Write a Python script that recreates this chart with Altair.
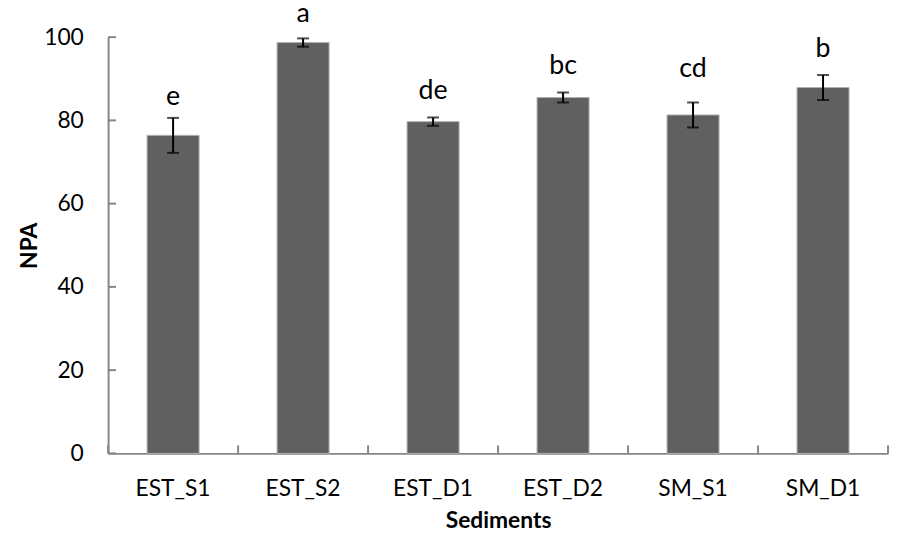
import altair as alt
import pandas as pd

sediments = ["EST_S1", "EST_S2", "EST_D1", "EST_D2", "SM_S1", "SM_D1"]
npa = [76.4, 98.7, 79.7, 85.5, 81.3, 87.9]
err = [4.2, 1.0, 1.0, 1.2, 3.0, 3.0]
letters = ["e", "a", "de", "bc", "cd", "b"]
letter_y = [83.8, 103.6, 85.2, 91.2, 90.5, 95.2]
y_ticks = [0, 20, 40, 60, 80, 100]

df = pd.DataFrame({
    "Sediments": sediments,
    "NPA": npa,
    "lo": [m - e for m, e in zip(npa, err)],
    "hi": [m + e for m, e in zip(npa, err)],
    "letter": letters,
    "ly": letter_y,
})
ticks_df = pd.DataFrame({"v": y_ticks})

W, H = 787, 420
FONT = "Lato"
AX = "#868686"

xscale = alt.Scale(domain=sediments, paddingInner=0, paddingOuter=0)
yscale = alt.Scale(domain=[0, 100], nice=False, clamp=False)

base = alt.Chart(df)

bars = base.mark_bar(
    width=alt.RelativeBandSize(0.4), color="#606060", stroke="#b0b0b0", strokeWidth=1
).encode(
    x=alt.X("Sediments:N", scale=xscale, sort=sediments,
            axis=alt.Axis(title="Sediments", labelAngle=0, ticks=False,
                          labelPadding=25, labelFontSize=23, labelFont=FONT,
                          labelColor="#000", titleFont=FONT, titleFontSize=23,
                          titleFontWeight="bold", titleColor="#000", titlePadding=9,
                          domainColor=AX, domainWidth=2)),
    y=alt.Y("NPA:Q", scale=yscale,
            axis=alt.Axis(title="NPA", values=y_ticks, ticks=False, grid=False,
                          labelPadding=25, labelFontSize=23, labelFont=FONT,
                          labelColor="#000", titleFont=FONT, titleFontSize=23,
                          titleFontWeight="bold", titleColor="#000", titlePadding=2,
                          domainColor=AX, domainWidth=2)),
)

rules = base.mark_rule(color="#000", strokeWidth=2).encode(
    x=alt.X("Sediments:N", scale=xscale, sort=sediments),
    y=alt.Y("lo:Q", scale=yscale),
    y2="hi:Q",
)
cap_hi = base.mark_tick(color="#000", thickness=2, size=12, orient="horizontal").encode(
    x=alt.X("Sediments:N", scale=xscale, sort=sediments),
    y=alt.Y("hi:Q", scale=yscale),
)
cap_lo = base.mark_tick(color="#000", thickness=2, size=12, orient="horizontal").encode(
    x=alt.X("Sediments:N", scale=xscale, sort=sediments),
    y=alt.Y("lo:Q", scale=yscale),
)

labels = base.mark_text(font=FONT, fontSize=27, color="#000", baseline="alphabetic").encode(
    x=alt.X("Sediments:N", scale=xscale, sort=sediments),
    y=alt.Y("ly:Q", scale=yscale),
    text="letter:N",
)

# inward tick marks
yticks = alt.Chart(ticks_df).mark_rule(color=AX, strokeWidth=2).encode(
    y=alt.Y("v:Q", scale=yscale),
    x=alt.value(0),
    x2=alt.value(8),
)
xticks = base.mark_rule(color=AX, strokeWidth=2).encode(
    x=alt.X("Sediments:N", scale=xscale, sort=sediments, bandPosition=0),
    y=alt.value(H),
    y2=alt.value(H - 8),
)
xtick_end = alt.Chart(df.tail(1)).mark_rule(color=AX, strokeWidth=2).encode(
    x=alt.X("Sediments:N", scale=xscale, sort=sediments, bandPosition=1),
    y=alt.value(H),
    y2=alt.value(H - 8),
)

chart = alt.layer(bars, rules, cap_hi, cap_lo, labels, yticks, xticks, xtick_end).properties(
    width=W, height=H,
    background="white",
    autosize=alt.AutoSizeParams(type="none"),
    padding={"left": 101, "top": 27, "right": 4, "bottom": 85},
).configure_view(stroke=None)

chart.save("out.html", embed_options={"renderer": "svg", "actions": False})
